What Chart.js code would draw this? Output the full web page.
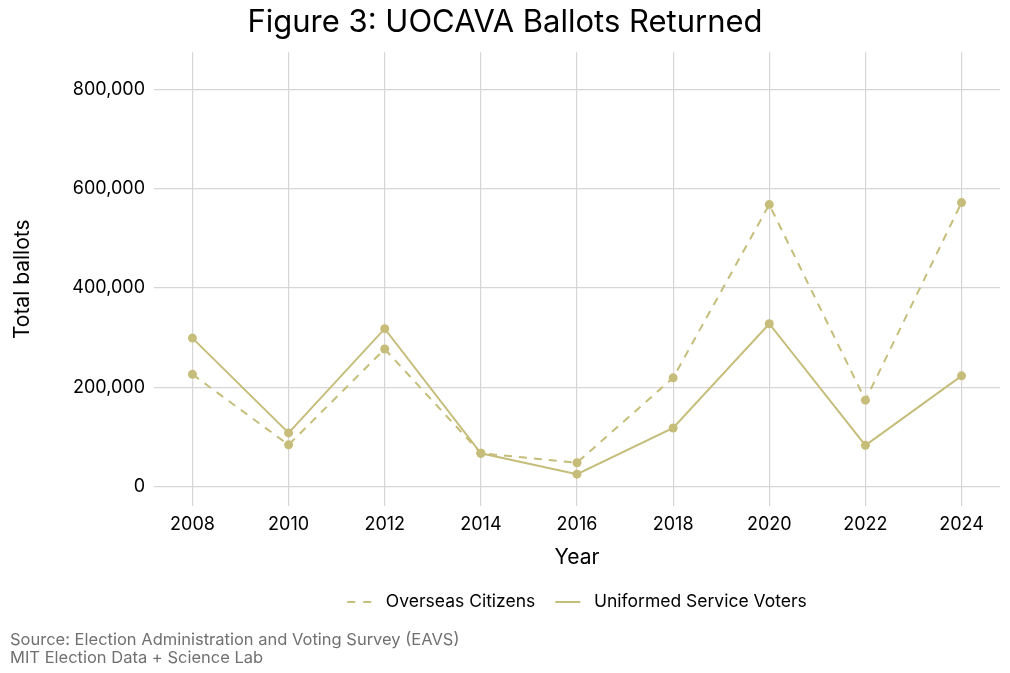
<!DOCTYPE html>
<html>
<head>
<meta charset="utf-8">
<script src="https://cdn.jsdelivr.net/npm/chart.js@4"></script>
<style>
  html, body { margin: 0; padding: 0; background: #fff; }
  #wrap { width: 1010px; height: 673px; }
</style>
</head>
<body>
<div id="wrap"><canvas id="myChart"></canvas></div>
<script>
// values
const years = [2008, 2010, 2012, 2014, 2016, 2018, 2020, 2022, 2024];
const overseas = [226000, 84000, 277000, 67000, 48000, 219000, 568000, 174000, 572000];
const uniformed = [299000, 108000, 318000, 67000, 25000, 118000, 328000, 83000, 223000];
const yTicks = [0, 200000, 400000, 600000, 800000];

const gold = "#c6bd7a";
const fontName = "Inter, 'DejaVu Sans', sans-serif";

function toPoints(vals) {
  let pts = [];
  for (let i = 0; i < years.length; i++) {
    pts.push({ x: years[i], y: vals[i] });
  }
  return pts;
}

new Chart("myChart", {
  type: "line",
  data: {
    datasets: [
      {
        label: "Overseas Citizens",
        data: toPoints(overseas),
        borderColor: gold,
        backgroundColor: gold,
        borderWidth: 2,
        borderDash: [8, 7],
        pointRadius: 4.5,
        pointBorderWidth: 0,
      },
      {
        label: "Uniformed Service Voters",
        data: toPoints(uniformed),
        borderColor: gold,
        backgroundColor: gold,
        borderWidth: 2,
        pointRadius: 4.5,
        pointBorderWidth: 0,
      },
    ],
  },
  options: {
    responsive: true,
    maintainAspectRatio: false,
    animation: false,
    layout: { padding: { left: 10, right: 10, top: 0, bottom: 6 } },
    plugins: {
      title: {
        display: true,
        text: "Figure 3: UOCAVA Ballots Returned",
        color: "#000",
        font: { family: fontName, size: 31, weight: "normal" },
        padding: { top: 4, bottom: 11 },
      },
      subtitle: {
        display: true,
        position: "bottom",
        align: "start",
        text: [
          "Source: Election Administration and Voting Survey (EAVS)",
          "MIT Election Data + Science Lab",
        ],
        color: "#707070",
        font: { family: fontName, size: 16.5, weight: "normal", lineHeight: 1.1 },
        padding: { top: 10, bottom: 0 },
      },
      legend: {
        position: "bottom",
        fullSize: false,
        labels: {
          usePointStyle: true,
          pointStyleWidth: 25,
          color: "#000",
          font: { family: fontName, size: 17.5 },
          padding: 20,
          generateLabels: (chart) =>
            chart.data.datasets.map((ds, i) => ({
              text: " " + ds.label,
              datasetIndex: i,
              hidden: false,
              pointStyle: "line",
              strokeStyle: ds.borderColor,
              fillStyle: ds.borderColor,
              lineWidth: 2,
              lineDash: ds.borderDash ? [8, 8] : [],
              fontColor: "#000",
            })),
        },
      },
      tooltip: { enabled: false },
    },
    scales: {
      x: {
        type: "linear",
        min: 2007.2,
        max: 2024.8,
        afterBuildTicks: (scale) => {
          scale.ticks = years.map((v) => ({ value: v }));
        },
        ticks: {
          color: "#000",
          font: { family: fontName, size: 18 },
          padding: 7,
          maxRotation: 0,
          callback: (v) => String(v),
        },
        grid: { color: "#d6d6d6", lineWidth: 1.2, drawTicks: false },
        border: { display: false },
        title: {
          display: true,
          text: "Year",
          color: "#000",
          font: { family: fontName, size: 21 },
          padding: { top: 3, bottom: 3 },
        },
      },
      y: {
        min: -40000,
        max: 875000,
        afterBuildTicks: (scale) => {
          scale.ticks = yTicks.map((v) => ({ value: v }));
        },
        afterFit: (scale) => {
          scale.width = 144;
        },
        ticks: {
          color: "#000",
          font: { family: fontName, size: 18 },
          padding: 9,
          callback: (v) => v.toLocaleString("en-US"),
        },
        grid: { color: "#d6d6d6", lineWidth: 1.2, drawTicks: false },
        border: { display: false },
        title: {
          display: true,
          text: "Total ballots",
          color: "#000",
          font: { family: fontName, size: 21 },
          padding: { top: 0, bottom: 0 },
        },
      },
    },
  },
});
</script>
</body>
</html>
